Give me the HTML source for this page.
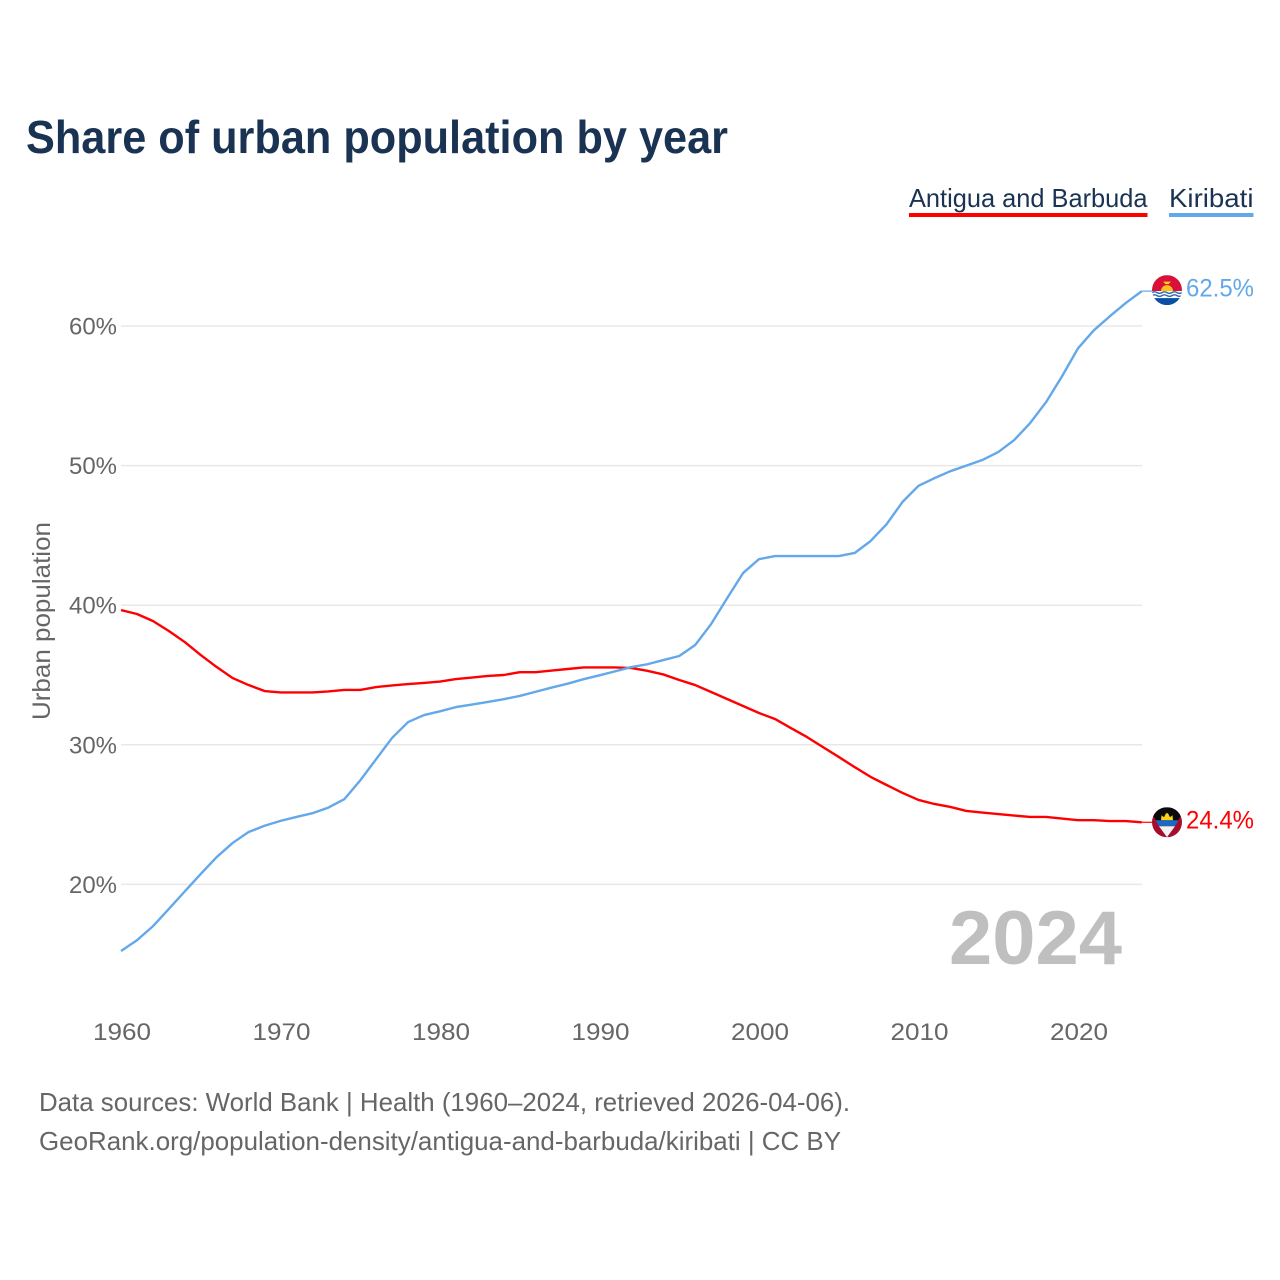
<!DOCTYPE html>
<html lang="en">
<head>
<meta charset="utf-8">
<title>Share of urban population by year</title>
<style>
html,body{margin:0;padding:0;background:#fff;width:1280px;height:1280px;overflow:hidden}
svg{display:block}
text{font-family:"Liberation Sans",Arial,sans-serif}
</style>
</head>
<body>
<svg id="chart" xmlns="http://www.w3.org/2000/svg" width="1280" height="1280" viewBox="0 0 1280 1280">
  <rect width="1280" height="1280" fill="#fff"/>
  <text x="26" y="153" font-size="46" font-weight="700" fill="#1a3353" textLength="702" lengthAdjust="spacingAndGlyphs">Share of urban population by year</text>

  <g>
    <text x="909" y="207" font-size="26" fill="#1a3353" textLength="238.500" lengthAdjust="spacingAndGlyphs">Antigua and Barbuda</text>
    <rect x="909" y="213" width="238.500" height="4" fill="#ff0000"/>
  </g>
  <g>
    <text x="1169" y="207" font-size="26" fill="#1a3353" textLength="84.500" lengthAdjust="spacingAndGlyphs">Kiribati</text>
    <rect x="1169" y="213" width="84.500" height="4" fill="#62a8ea"/>
  </g>

  <g id="grid"></g>
  <g id="yticks"></g>
  <g id="xticks"></g>

  <text transform="translate(50,720) rotate(-90)" font-size="25" fill="#666" textLength="198" lengthAdjust="spacingAndGlyphs">Urban population</text>

  <text x="949" y="964" font-size="76" font-weight="700" fill="#bfbfbf" textLength="173" lengthAdjust="spacingAndGlyphs">2024</text>

  <g id="series"></g>

  <g id="flag-kiribati">
    <clipPath id="clip-ki"><circle cx="0" cy="0" r="15"/></clipPath>
    <g clip-path="url(#clip-ki)">
      <rect x="-15" y="-15" width="30" height="16" fill="#d8113a"/>
      <rect x="-15" y="1" width="30" height="8" fill="#ffffff"/>
      <rect x="-15" y="8" width="30" height="7" fill="#0a4fa3"/>
      <path d="M-15 2.500q2.500 -1.500 5 0t5 0t5 0t5 0t5 0t5 0M-15 5.500q2.500 -1.500 5 0t5 0t5 0t5 0t5 0t5 0" fill="none" stroke="#2a64b0" stroke-width="1.400"/>
      <path d="M-6 1a6 6 0 0 1 12 0z" fill="#fcc21b"/>
      <path d="M-4 -8.500h8l-2.500 2.500h-3z" fill="#fcd116"/>
    </g>
  </g>
  <g id="flag-antigua">
    <clipPath id="clip-ag"><circle cx="0" cy="0" r="15"/></clipPath>
    <g clip-path="url(#clip-ag)">
      <rect x="-15" y="-15" width="30" height="30" fill="#a50d2c"/>
      <path d="M-15 -15H15V-8L0 15-15 -8z" fill="#0a0a0a"/>
      <path d="M-6 -2L-5.500 -7L-3 -5L-1 -9L1 -9L3 -5L5.500 -7L6 -2z" fill="#fcd116"/>
      <path d="M-11.500 -2H11.500L8 4H-8z" fill="#1d68c4"/>
      <path d="M-8 4H8L0 15z" fill="#f2f2f2"/>
    </g>
  </g>

  <text id="value-kiribati" x="1186" y="296.500" font-size="25" fill="#62a8ea" textLength="68" lengthAdjust="spacingAndGlyphs"></text>
  <text id="value-antigua" x="1186" y="828.500" font-size="25" fill="#ff0000" textLength="68" lengthAdjust="spacingAndGlyphs"></text>

  <text x="39" y="1111" font-size="26" fill="#666" textLength="811" lengthAdjust="spacingAndGlyphs">Data sources: World Bank | Health (1960–2024, retrieved 2026-04-06).</text>
  <text x="39" y="1150" font-size="26" fill="#666" textLength="802" lengthAdjust="spacingAndGlyphs">GeoRank.org/population-density/antigua-and-barbuda/kiribati | CC BY</text>
</svg>
<script>
const startYear = 1960;
const antiguaValues = [39.65,39.37,38.87,38.15,37.36,36.43,35.57,34.78,34.28,33.85,33.75,33.75,33.75,33.82,33.93,33.93,34.14,34.25,34.35,34.43,34.53,34.71,34.82,34.93,35.0,35.2,35.2,35.32,35.43,35.54,35.54,35.54,35.5,35.3,35.04,34.64,34.28,33.78,33.28,32.78,32.28,31.85,31.2,30.56,29.84,29.13,28.4,27.7,27.12,26.55,26.05,25.76,25.55,25.26,25.15,25.04,24.93,24.83,24.83,24.72,24.6,24.6,24.54,24.54,24.45];
const kiribatiValues = [15.23,16.0,17.0,18.24,19.5,20.75,21.96,22.97,23.75,24.2,24.55,24.83,25.1,25.5,26.1,27.45,28.98,30.5,31.63,32.13,32.4,32.7,32.88,33.07,33.27,33.5,33.8,34.1,34.38,34.7,34.98,35.27,35.57,35.77,36.07,36.36,37.15,38.65,40.5,42.3,43.3,43.52,43.52,43.52,43.52,43.52,43.74,44.6,45.8,47.4,48.55,49.1,49.6,50.0,50.4,50.97,51.83,53.05,54.55,56.4,58.4,59.7,60.7,61.65,62.5];
const yTickValues = [20,30,40,50,60];
const xTickYears = [1960,1970,1980,1990,2000,2010,2020];

const NS = 'http://www.w3.org/2000/svg';
function xScale(year){ return 121 + (year - 1960) * 15.95; }
function yScale(v){ return 326 + (60 - v) * 13.96; }
function mk(tag, attrs, parent, txt){
  const el = document.createElementNS(NS, tag);
  for (const k in attrs) el.setAttribute(k, attrs[k]);
  if (txt !== undefined) el.textContent = txt;
  parent.appendChild(el);
  return el;
}
const grid = document.getElementById('grid');
const yticks = document.getElementById('yticks');
yTickValues.forEach(function(v){
  const line = mk('line', {x1:121, x2:1142, y1:yScale(v), y2:yScale(v), stroke:'#e8e8e8', 'stroke-width':1.5}, grid);
  
  
  const t = mk('text', {x:117, y:yScale(v)+8.5, 'font-size':24, fill:'#666', 'text-anchor':'end', textLength:48, lengthAdjust:'spacingAndGlyphs'}, yticks, v + '%');
  
  
});
const xticks = document.getElementById('xticks');
xTickYears.forEach(function(y){
  const t = mk('text', {x:xScale(y)+1, y:1040, 'font-size':24, fill:'#666', 'text-anchor':'middle', textLength:58, lengthAdjust:'spacingAndGlyphs'}, xticks, String(y));
  
  
});
const series = document.getElementById('series');
function drawLine(values, color, name){
  const pts = values.map(function(v,i){ return xScale(startYear+i).toFixed(2)+','+yScale(v).toFixed(2); });
  const lastY = yScale(values[values.length-1]).toFixed(2);
  const lastX = xScale(startYear+values.length-1);
  const path = mk('path', {d:'M'+pts.join('L'), fill:'none', stroke:color, 'stroke-width':2.4, 'stroke-linejoin':'round'}, series);
  
  
  const conn = mk('line', {x1:lastX, x2:1153, y1:lastY, y2:lastY, stroke:color, 'stroke-width':1.2}, series);
  
  
}
drawLine(antiguaValues, '#ff0000', 'line-antigua');
drawLine(kiribatiValues, '#62a8ea', 'line-kiribati');
const lastK = kiribatiValues[kiribatiValues.length-1];
const lastA = antiguaValues[antiguaValues.length-1];
document.getElementById('flag-kiribati').setAttribute('transform','translate(1167,'+(yScale(lastK)-1)+')');
document.getElementById('flag-antigua').setAttribute('transform','translate(1167,'+yScale(lastA)+')');
document.getElementById('value-kiribati').textContent = lastK.toFixed(1) + '%';
document.getElementById('value-antigua').textContent = '24.4%';
</script>
</body>
</html>
